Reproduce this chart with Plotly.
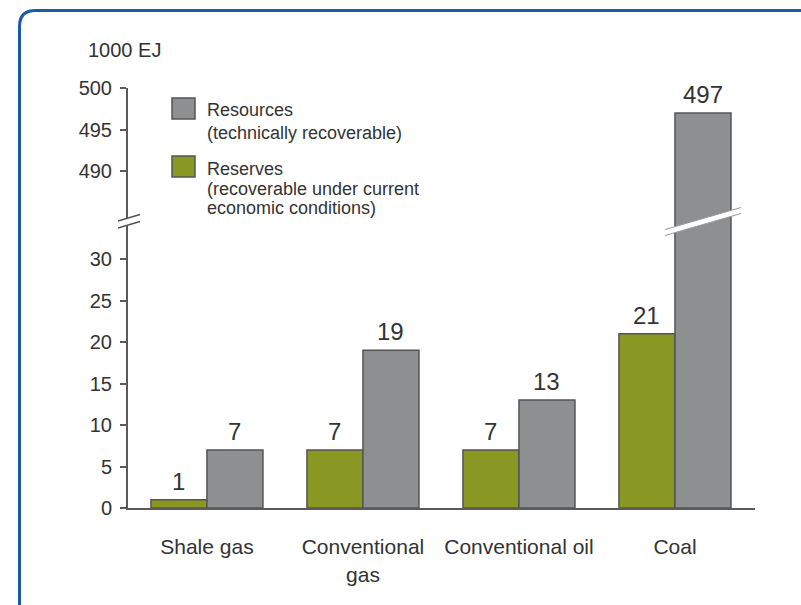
import plotly.graph_objects as go

# Energy resources and reserves, in 1000 EJ
categories = ["Shale gas", "Conventional<br>gas", "Conventional oil", "Coal"]
reserves = [1, 7, 7, 21]
resources = [7, 19, 13, 497]

lower_ticks = [0, 5, 10, 15, 20, 25, 30]
upper_ticks = [490, 495, 500]

GREEN = "#889823"
GREY = "#8d8f91"
EDGE = "#555555"
TEXT = "#333333"
FONT = "Liberation Sans"

# plot-area geometry in pixels (used to place decorations)
W_FIG, H_FIG = 801, 605
L, R, T, B = 128, 755, 88, 508
PW, PH = R - L, B - T
SPLIT = 220  # pixel row where the axis break sits


def px(x):
    return (x - L) / PW


def py(y):
    return (B - y) / PH


scale = 30 / (B - 259)  # data units per pixel
lower_max = (B - SPLIT) * scale
upper_min = 500 - (SPLIT - T) * scale
split_frac = py(SPLIT)

fig = go.Figure()

series = [("Reserves", reserves, GREEN), ("Resources", resources, GREY)]
for xa, ya in [("x", "y"), ("x2", "y2")]:
    for name, vals, col in series:
        fig.add_trace(go.Bar(
            x=categories, y=vals, name=name, xaxis=xa, yaxis=ya,
            marker=dict(color=col, line=dict(color=EDGE, width=1.5)),
            showlegend=False, hoverinfo="skip",
        ))

annotations = []
# value labels above each bar
bar_w = (1 - 0.282) / 2
for j, (name, vals, col) in enumerate(series):
    off = (-0.5 + j) * bar_w
    for i, v in enumerate(vals):
        annotations.append(dict(
            x=i + off, y=v, xref="x", yref="y2" if v > lower_max else "y",
            text=str(v), showarrow=False, yanchor="bottom", yshift=3,
            font=dict(family=FONT, size=24, color=TEXT),
        ))

# unit label
annotations.append(dict(
    x=px(86), y=py(50), xref="paper", yref="paper", text="1000 EJ",
    showarrow=False, xanchor="left", yanchor="middle",
    font=dict(family=FONT, size=20, color=TEXT),
))

# legend text
legend_lines = [
    ("Resources", 110), ("(technically recoverable)", 133),
    ("Reserves", 169), ("(recoverable under current", 189),
    ("economic conditions)", 208),
]
for txt, yy in legend_lines:
    annotations.append(dict(
        x=px(205), y=py(yy), xref="paper", yref="paper", text=txt,
        showarrow=False, xanchor="left", yanchor="middle",
        font=dict(family=FONT, size=18, color=TEXT),
    ))

shapes = []
# legend swatches
for col, y0 in [(GREY, 98), (GREEN, 156)]:
    shapes.append(dict(
        type="rect", xref="paper", yref="paper",
        x0=px(172), x1=px(195), y0=py(y0), y1=py(y0 + 21),
        fillcolor=col, line=dict(color=EDGE, width=1.5),
    ))


def path(points, close=True):
    s = "M " + " L ".join(f"{px(x):.5f},{py(y):.5f}" for x, y in points)
    return s + (" Z" if close else "")


# break on the y axis
shapes.append(dict(type="path", xref="paper", yref="paper",
                   path=path([(118, 221), (140, 214.5), (140, 221.5), (118, 228)]),
                   fillcolor="white", line=dict(width=0)))
for y_l, y_r in [(221, 214.5), (228, 221.5)]:
    shapes.append(dict(type="line", xref="paper", yref="paper",
                       x0=px(118), y0=py(y_l), x1=px(140), y1=py(y_r),
                       line=dict(color="#555555", width=1.5)))

# break across the tall coal bar
shapes.append(dict(type="path", xref="paper", yref="paper",
                   path=path([(665, 229.5), (741, 207.5), (741, 213.5), (665, 235.5)]),
                   fillcolor="white", line=dict(width=0)))
for y_l, y_r in [(229.5, 207.5), (235.5, 213.5)]:
    shapes.append(dict(type="line", xref="paper", yref="paper",
                       x0=px(665), y0=py(y_l), x1=px(741), y1=py(y_r),
                       line=dict(color="#9a9a9a", width=1)))

# rounded blue frame
fx0, fy0, r = 19.5, 10.5, 16
frame = (f"M {px(fx0):.5f},{py(700):.5f} L {px(fx0):.5f},{py(fy0 + r):.5f} "
         f"Q {px(fx0):.5f},{py(fy0):.5f} {px(fx0 + r):.5f},{py(fy0):.5f} "
         f"L {px(900):.5f},{py(fy0):.5f}")
shapes.append(dict(type="path", xref="paper", yref="paper", path=frame,
                   line=dict(color="#1b5aa8", width=3)))

axis_common = dict(
    showline=True, linecolor="#5a5a5a", linewidth=2, ticks="outside",
    ticklen=6, tickwidth=1.5, tickcolor="#5a5a5a", showgrid=False,
    zeroline=False, tickfont=dict(family=FONT, size=20, color=TEXT),
    ticklabelstandoff=4,
)

fig.update_layout(
    width=W_FIG, height=H_FIG,
    margin=dict(l=L, r=W_FIG - R, t=T, b=H_FIG - B),
    paper_bgcolor="white", plot_bgcolor="rgba(0,0,0,0)",
    barmode="group", bargap=0.282, bargroupgap=0,
    xaxis=dict(
        domain=[0, 1], range=[-0.506, 3.513], showline=True,
        linecolor="#5a5a5a", linewidth=2, ticks="", showgrid=False,
        tickfont=dict(family=FONT, size=21, color=TEXT),
        ticklabelstandoff=19, anchor="y",
    ),
    xaxis2=dict(domain=[0, 1], matches="x", anchor="y2", visible=False),
    yaxis=dict(domain=[0, split_frac], range=[0, lower_max],
               tickvals=lower_ticks, anchor="x", **axis_common),
    yaxis2=dict(domain=[split_frac, 1], range=[upper_min, 500],
                tickvals=upper_ticks, anchor="x2", **axis_common),
    annotations=annotations, shapes=shapes,
)

fig.write_html("out.html")
